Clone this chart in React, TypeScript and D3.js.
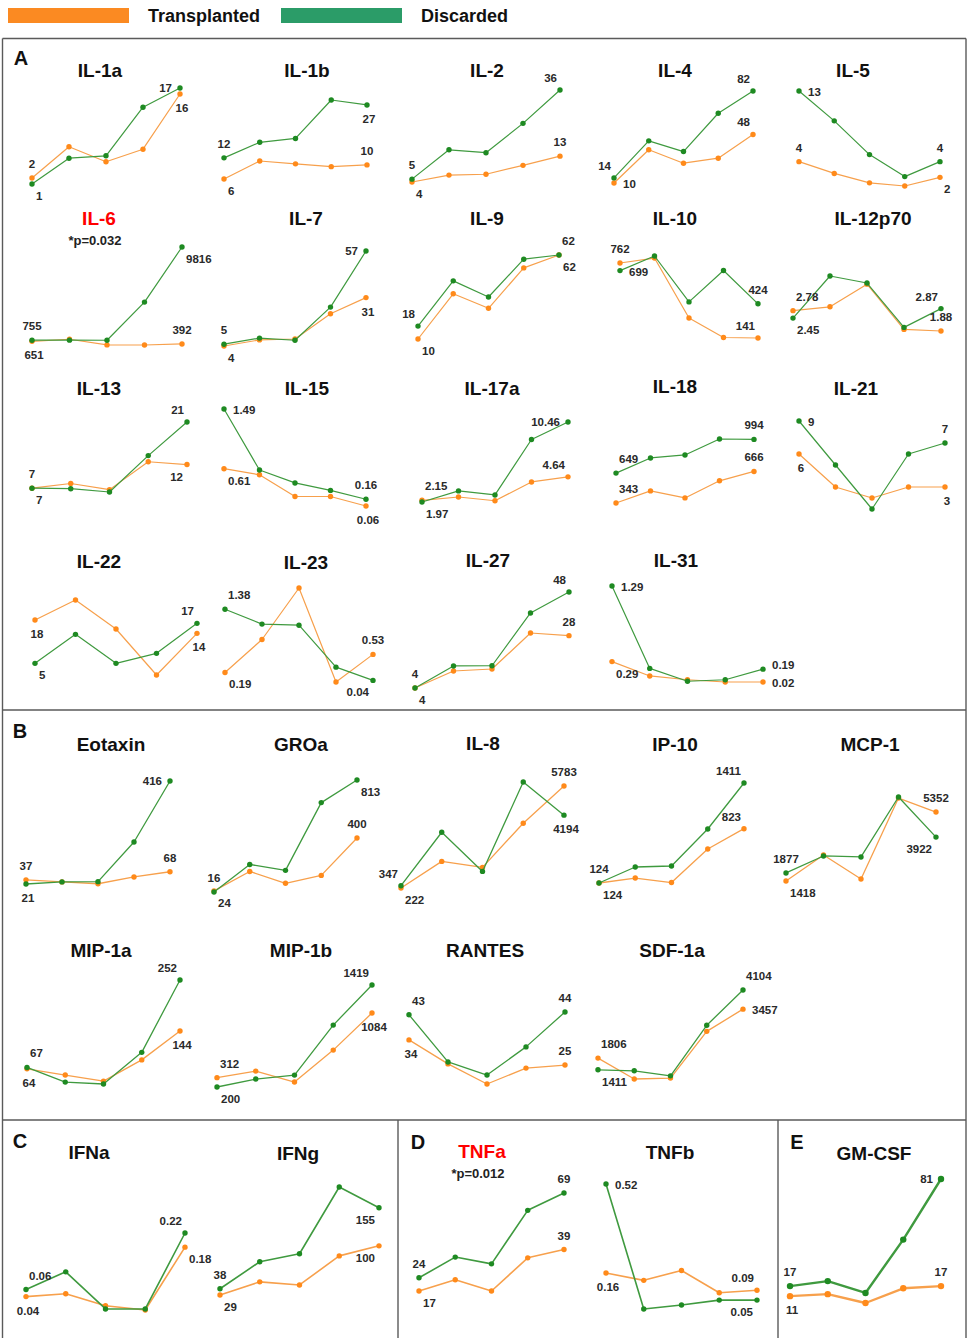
import React from "react";
import * as d3 from "d3";

const WIDTH = 968;
const HEIGHT = 1338;
const FONT = "'Liberation Sans', Arial, sans-serif";

// Series colours
const ORANGE_LINE = "#f7a04c";
const ORANGE_DOT = "#ff8a1a";
const GREEN_LINE = "#3f9a3f";
const GREEN_DOT = "#1e8a22";
const LEGEND_ORANGE = "#fb8a22";
const LEGEND_GREEN = "#2b9c68";

// Analytes, in drawing order (panels A, B, C, D, E)
const cytokines = [
  "IL-1a", "IL-1b", "IL-2", "IL-4", "IL-5",
  "IL-6", "IL-7", "IL-9", "IL-10", "IL-12p70",
  "IL-13", "IL-15", "IL-17a", "IL-18", "IL-21",
  "IL-22", "IL-23", "IL-27", "IL-31",
  "Eotaxin", "GROa", "IL-8", "IP-10", "MCP-1",
  "MIP-1a", "MIP-1b", "RANTES", "SDF-1a",
  "IFNa", "IFNg",
  "TNFa", "TNFb",
  "GM-CSF",
];

const significantNames = ["IL-6", "TNFa"];
const pValueTexts = ["*p=0.032", "*p=0.012"];

// Five sampling time points per analyte
const timePoints = [0, 1, 2, 3, 4];

// Transplanted group, one row per analyte
const transplanted: number[][] = [
  [2, 7.2, 4.7, 6.8, 16],
  [6, 11.1, 10.3, 9.5, 10],
  [4, 6.4, 6.7, 9.8, 13],
  [10, 36, 25.5, 29.4, 48],
  [4, 2.5, 1.3, 0.9, 2],
  [651, 850, 300, 290, 392],
  [4, 7.4, 7.9, 22, 31],
  [10, 38, 29, 54, 62],
  [762, 803, 307, 145, 141],
  [2.78, 2.95, 3.95, 1.95, 1.88],
  [7, 8, 6.7, 12.6, 12],
  [0.61, 0.52, 0.2, 0.2, 0.06],
  [2.15, 2.5, 2.1, 4.1, 4.64],
  [343, 467, 395, 570, 666],
  [6, 3, 2, 3, 3],
  [18, 24, 15.3, 1.5, 14],
  [0.19, 0.81, 1.78, 0.01, 0.53],
  [4, 11.8, 12.7, 29.2, 28],
  [0.29, 0.1, 0.05, 0.02, 0.02],
  [37, 29, 22, 48, 68],
  [24, 162, 78, 134, 400],
  [222, 1673, 1345, 3756, 5783],
  [124, 188, 130, 562, 823],
  [1418, 2900, 1532, 6150, 5352],
  [64, 51, 38, 83, 144],
  [312, 390, 259, 641, 1084],
  [34, 25.4, 18.2, 23.9, 25],
  [1806, 1100, 1130, 2709, 3457],
  [0.04, 0.048, 0.014, 0.002, 0.18],
  [29, 48, 43.5, 85.5, 100],
  [17, 23, 17, 34.6, 39],
  [0.16, 0.13, 0.17, 0.08, 0.09],
  [11, 12.2, 6.9, 15.7, 17],
];

// Discarded group, one row per analyte
const discarded: number[][] = [
  [1, 5.3, 5.7, 13.8, 17],
  [12, 16.4, 17.5, 28.4, 27],
  [5, 15.2, 14.2, 24.4, 36],
  [14, 43, 34.6, 64.6, 82],
  [13, 9.2, 4.9, 2.1, 4],
  [755, 760, 750, 4458, 9816],
  [5, 8.4, 7.2, 25.7, 57],
  [18, 46, 36, 59.4, 62],
  [699, 820, 440, 700, 424],
  [2.45, 4.31, 4.0, 2.04, 2.87],
  [7, 6.9, 6.2, 13.9, 21],
  [1.49, 0.59, 0.4, 0.29, 0.16],
  [1.97, 3.15, 2.72, 8.6, 10.46],
  [649, 804, 835, 998, 994],
  [9, 5, 1, 6, 7],
  [5, 13.7, 5, 8, 17],
  [1.38, 1.1, 1.08, 0.29, 0.04],
  [4, 14.1, 14.2, 38.4, 48],
  [1.29, 0.2, 0.03, 0.05, 0.19],
  [21, 29, 30, 182, 416],
  [16, 212, 170, 652, 813],
  [347, 3263, 1126, 6002, 4194],
  [124, 330, 343, 819, 1411],
  [1877, 2846, 2789, 6210, 3922],
  [67, 36, 32, 99, 252],
  [200, 295, 342, 940, 1419],
  [43, 26.1, 21.4, 31.5, 44],
  [1411, 1377, 1207, 2914, 4104],
  [0.06, 0.11, 0.005, 0.005, 0.22],
  [38, 77, 88.6, 185, 155],
  [24, 35, 31.4, 59.8, 69],
  [0.52, 0.014, 0.03, 0.05, 0.05],
  [17, 20, 12.9, 44.8, 81],
];

// Layout per small multiple: [x first, x last, y of max, y of min, title x, title y, line width]
const layout: number[][] = [
  [32, 180, 88, 184, 100, 70, 1.2],
  [224, 367, 100, 179, 307, 70, 1.2],
  [412, 560, 90, 182, 487, 70, 1.2],
  [614, 753, 91, 183, 675, 70, 1.2],
  [799, 940, 91, 186, 853, 70, 1.2],
  [32, 182, 247, 345, 99, 218, 1.2],
  [224, 366, 251, 346, 306, 218, 1.2],
  [418, 559, 255, 339, 487, 218, 1.2],
  [620, 758, 256, 338, 675, 218, 1.2],
  [793, 941, 276, 331, 873, 218, 1.2],
  [32, 187, 422, 492, 99, 388, 1.2],
  [224, 366, 409, 506, 307, 388, 1.2],
  [422, 568, 422, 502, 492, 388, 1.2],
  [616, 754, 439, 503, 675, 386, 1.2],
  [799, 945, 421, 509, 856, 388, 1.2],
  [35, 197, 600, 675, 99, 561, 1.2],
  [225, 373, 588, 682, 306, 562, 1.2],
  [415, 569, 592, 688, 488, 560, 1.2],
  [612, 763, 586, 682, 676, 560, 1.2],
  [26, 170, 781, 884, 111, 744, 1.3],
  [214, 357, 780, 892, 301, 744, 1.3],
  [401, 564, 782, 888, 483, 743, 1.3],
  [599, 744, 783, 883, 675, 744, 1.3],
  [786, 936, 797, 881, 870, 744, 1.3],
  [27, 180, 980, 1084, 101, 950, 1.3],
  [217, 372, 985, 1087, 301, 950, 1.3],
  [409, 565, 1012, 1084, 485, 950, 1.3],
  [598, 743, 990, 1079, 672, 950, 1.3],
  [26, 185, 1233, 1310, 89, 1152, 1.6],
  [220, 379, 1187, 1295, 298, 1153, 1.6],
  [419, 564, 1193, 1291, 482, 1151, 1.6],
  [606, 757, 1184, 1309, 670, 1152, 1.6],
  [790, 941, 1179, 1303, 874, 1153, 2.4],
];

// Value-label placement: [transplanted first, discarded first, transplanted last, discarded last]
const labelPlacement: string[][] = [
  ["a", "br", "b", "l"],
  ["br", "a", "a", "b"],
  ["br", "a", "a", "al"],
  ["r", "al", "al", "al"],
  ["a", "r", "br", "a"],
  ["b", "a", "a", "br"],
  ["br", "a", "b", "l"],
  ["br", "al", "br", "ar"],
  ["a", "r", "al", "a"],
  ["ar", "br", "a", "al"],
  ["a", "br", "bl", "al"],
  ["br", "r", "b", "a"],
  ["ar", "br", "al", "l"],
  ["ar", "ar", "a", "a"],
  ["b", "r", "b", "a"],
  ["b", "br", "b", "al"],
  ["br", "ar", "a", "bl"],
  ["br", "a", "a", "al"],
  ["br", "r", "r", "ru"],
  ["a", "b", "a", "l"],
  ["br", "a", "a", "br"],
  ["br", "al", "a", "b"],
  ["br", "a", "al", "al"],
  ["br", "a", "a", "bl"],
  ["b", "ar", "b", "al"],
  ["ar", "br", "b", "al"],
  ["b", "ar", "a", "a"],
  ["ar", "br", "r", "ar"],
  ["b", "ar", "br", "al"],
  ["br", "a", "bl", "bl"],
  ["br", "a", "a", "a"],
  ["b", "r", "al", "bl"],
  ["b", "a", "a", "l"],
];

const placementOffsets: Record<string, { dx: number; dy: number; anchor: string }> = {
  a: { dx: 0, dy: -14, anchor: "middle" },
  b: { dx: 2, dy: 14, anchor: "middle" },
  ar: { dx: 3, dy: -14, anchor: "start" },
  al: { dx: -3, dy: -12, anchor: "end" },
  br: { dx: 4, dy: 12, anchor: "start" },
  bl: { dx: -4, dy: 12, anchor: "end" },
  r: { dx: 9, dy: 1, anchor: "start" },
  ru: { dx: 9, dy: -4, anchor: "start" },
  l: { dx: -8, dy: 0, anchor: "end" },
};

const panelLetters = ["A", "B", "C", "D", "E"];
const panelLetterPos = [
  [21, 58],
  [20, 731],
  [20, 1141],
  [418, 1142],
  [797, 1142],
];

const legendNames = ["Transplanted", "Discarded"];

function SmallMultiple({ index }: { index: number }) {
  const name = cytokines[index];
  const tVals = transplanted[index];
  const dVals = discarded[index];
  const [x0, x1, yTop, yBot, tx, ty, lw] = layout[index];

  const x = d3.scalePoint<number>().domain(timePoints).range([x0, x1]);
  const extent = d3.extent([...tVals, ...dVals]) as [number, number];
  const y = d3.scaleLinear().domain(extent).range([yBot, yTop]);

  const line = d3
    .line<number>()
    .x((_, i) => x(timePoints[i]) as number)
    .y((v) => y(v));

  const sigIdx = significantNames.indexOf(name);
  const series = [
    { vals: tVals, lineColor: ORANGE_LINE, dotColor: ORANGE_DOT, slot: 0 },
    { vals: dVals, lineColor: GREEN_LINE, dotColor: GREEN_DOT, slot: 1 },
  ];

  return (
    <g>
      <text
        x={tx}
        y={ty}
        textAnchor="middle"
        dominantBaseline="central"
        fontSize={19}
        fontWeight="bold"
        fill={sigIdx >= 0 ? "#ff0000" : "#111"}
      >
        {name}
      </text>
      {sigIdx >= 0 && (
        <text
          x={tx - 4}
          y={ty + 22}
          textAnchor="middle"
          dominantBaseline="central"
          fontSize={13}
          fontWeight="bold"
          fill="#222"
        >
          {pValueTexts[sigIdx]}
        </text>
      )}
      {series.map((s) => (
        <g key={s.slot}>
          <path
            d={line(s.vals) || ""}
            fill="none"
            stroke={s.lineColor}
            strokeWidth={lw}
            strokeLinejoin="round"
          />
          {s.vals.map((v, i) => (
            <circle
              key={i}
              cx={x(timePoints[i]) as number}
              cy={y(v)}
              r={lw > 2 ? 3.2 : 2.7}
              fill={s.dotColor}
            />
          ))}
        </g>
      ))}
      {series.map((s) =>
        [0, timePoints.length - 1].map((i, k) => {
          const code = labelPlacement[index][k * 2 + s.slot];
          const off = placementOffsets[code];
          return (
            <text
              key={`${s.slot}-${i}`}
              x={(x(timePoints[i]) as number) + off.dx}
              y={y(s.vals[i]) + off.dy}
              textAnchor={off.anchor}
              dominantBaseline="central"
              fontSize={11.5}
              fontWeight="bold"
              fill="#2a2a2a"
            >
              {String(s.vals[i])}
            </text>
          );
        })
      )}
    </g>
  );
}

export default function App() {
  const frame = "#5a5a5a";
  return (
    <svg
      width={WIDTH}
      height={HEIGHT}
      style={{ position: "absolute", left: 0, top: 0, background: "#fff" }}
      fontFamily={FONT}
    >
      <rect x={0} y={0} width={WIDTH} height={HEIGHT} fill="#fff" />

      {/* legend */}
      <rect x={8} y={8} width={121} height={15} fill={LEGEND_ORANGE} />
      <text x={148} y={16} dominantBaseline="central" fontSize={18} fontWeight="bold" fill="#111">
        {legendNames[0]}
      </text>
      <rect x={281} y={8} width={121} height={15} fill={LEGEND_GREEN} />
      <text x={421} y={16} dominantBaseline="central" fontSize={18} fontWeight="bold" fill="#111">
        {legendNames[1]}
      </text>

      {/* panel frames */}
      <g stroke={frame} strokeWidth={1.4} fill="none">
        <line x1={2.5} y1={38.5} x2={966} y2={38.5} />
        <line x1={2.5} y1={710} x2={966} y2={710} />
        <line x1={2.5} y1={1120} x2={966} y2={1120} />
        <line x1={2.5} y1={38.5} x2={2.5} y2={HEIGHT} />
        <line x1={966} y1={38.5} x2={966} y2={HEIGHT} />
        <line x1={398} y1={1120} x2={398} y2={HEIGHT} />
        <line x1={778} y1={1120} x2={778} y2={HEIGHT} />
      </g>

      {panelLetters.map((l, i) => (
        <text
          key={l}
          x={panelLetterPos[i][0]}
          y={panelLetterPos[i][1]}
          textAnchor="middle"
          dominantBaseline="central"
          fontSize={20}
          fontWeight="bold"
          fill="#111"
        >
          {l}
        </text>
      ))}

      {cytokines.map((c, i) => (
        <SmallMultiple key={c} index={i} />
      ))}
    </svg>
  );
}
